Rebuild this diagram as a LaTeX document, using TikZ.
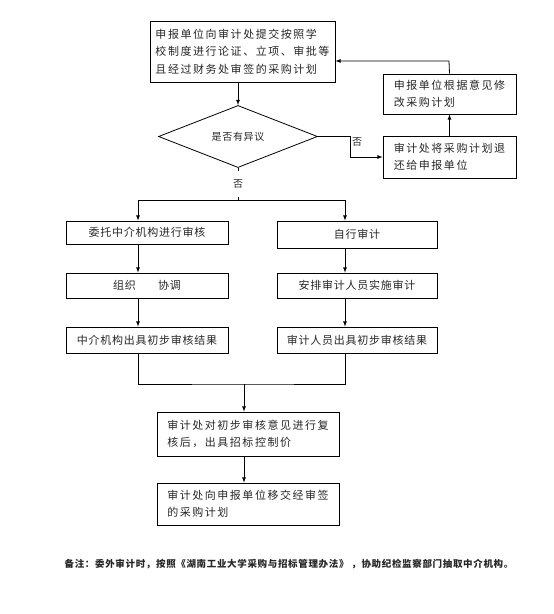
\documentclass[tikz,border=0pt]{standalone}
\usepackage{fontspec}
\newfontfamily\cjk[LetterSpace=14]{Noto Sans CJK SC}
\newfontfamily\cjkn[LetterSpace=7]{Noto Sans CJK SC}
\usepackage{tikz}
\usetikzlibrary{arrows,calc,positioning,shapes.geometric}
\tikzset{%
	proc/.style     = {draw, rectangle, line width=0.8pt, inner sep=0pt, align=left, text=black!85, font=\cjk\fontsize{11}{17.5}\selectfont},
	procn/.style    = {proc, align=center, font=\cjkn\fontsize{11}{17.5}\selectfont},
	decision/.style = {draw, diamond, line width=0.8pt, inner sep=0pt, minimum width=159pt, minimum height=41pt, text=black!85, font=\cjkn\fontsize{10}{12}\selectfont},
	lbl/.style      = {text=black!85, font=\cjk\fontsize{10}{12}\selectfont},
	arrow/.style    = {line width=0.8pt,-latex},
	line/.style     = {line width=0.8pt},
}
\begin{document}
\begin{tikzpicture}[x=1pt,y=-1pt]
		\useasboundingbox (0,0) rectangle (554,614);
		
		% top part
		\node[proc, minimum width=185pt, minimum height=61pt] (sb) at (242.5,51.5) {申报单位向审计处提交按照学\\校制度进行论证、立项、审批等\\且经过财务处审签的采购计划};
		\node[decision] (yy) at (238,136.5) {是否有异议};
		\node[proc, minimum width=133pt, minimum height=40pt] (xg) at (449.5,94) {申报单位根据意见修\\改采购计划};
		\node[proc, minimum width=133pt, minimum height=42pt] (th) at (449.5,157) {审计处将采购计划退\\还给申报单位};
		\node[lbl] (no1) at (357,142) {否};
		
		% two columns
		\node[procn, minimum width=162pt, minimum height=23pt] (wt) at (147,232.5) {委托中介机构进行审核};
		\node[procn, minimum width=162pt, minimum height=25pt] (zx) at (147,285.5) {组织\quad\quad 协调};
		\node[procn, minimum width=162pt, minimum height=26pt] (jg) at (147,340) {中介机构出具初步审核结果};
		\node[procn, minimum width=160pt, minimum height=27pt] (zs) at (357,234.5) {自行审计};
		\node[procn, minimum width=160pt, minimum height=25pt] (ap) at (357,285.5) {安排审计人员实施审计};
		\node[procn, minimum width=160pt, minimum height=26pt] (ry) at (357,340) {审计人员出具初步审核结果};
		
		% bottom part
		\node[proc, minimum width=182pt, minimum height=44pt] (fh) at (248,434) {审计处对初步审核意见进行复\\核后，出具招标控制价};
		\node[proc, minimum width=182pt, minimum height=42pt] (yj) at (248,504) {审计处向申报单位移交经审签\\的采购计划};
		\node[text=black!85, font=\cjkn\fontsize{9.5}{12}\selectfont\bfseries] (bz) at (289,564) {备注：委外审计时，按照《湖南工业大学采购与招标管理办法》 ，协助纪检监察部门抽取中介机构。};
		
		\coordinate (bk) at (449,61);
		\coordinate (split) at (238,200);
		\coordinate (lx) at (138,0);
		\coordinate (rx) at (345,0);
		\coordinate (mg) at (244,384);
		
		\draw[arrow] (sb.south -| yy.north) -- (yy.north);
		\draw[arrow] (yy.east) -- ++(32,0) |- (th.west);
		\draw[arrow] (th.north) -- (xg.south);
		\draw[arrow] (xg.north) -- (bk) -- (bk -| sb.east);
		\draw[line] (yy.south) -- node[lbl, fill=white, inner xsep=2pt, inner ysep=9pt] (no2) {否} (split);
		
		\draw[arrow] (split) -| (wt.north -| lx);
		\draw[arrow] (split) -| (zs.north -| rx);
		\draw[arrow] (wt.south -| lx) -- (zx.north -| lx);
		\draw[arrow] (zx.south -| lx) -- (jg.north -| lx);
		\draw[arrow] (zs.south -| rx) -- (ap.north -| rx);
		\draw[arrow] (ap.south -| rx) -- (ry.north -| rx);
		
		\draw[line] (jg.south -| lx) |- (mg) -| (ry.south -| rx);
		\draw[arrow] (mg) -- (fh.north -| mg);
		\draw[arrow] (fh.south -| mg) -- (yj.north -| mg);
		\end{tikzpicture}
\end{document}
